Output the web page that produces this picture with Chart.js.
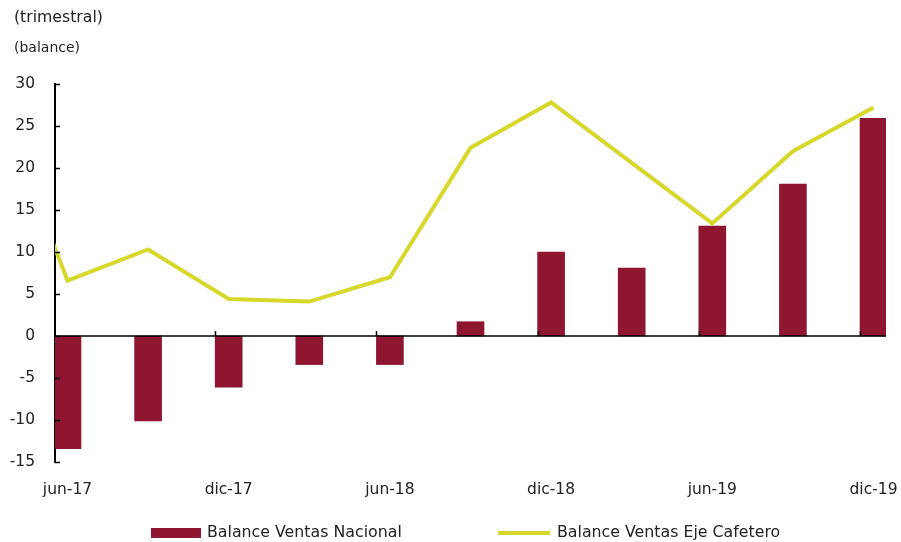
<!DOCTYPE html>
<html lang="es">
<head>
<meta charset="utf-8">
<script src="https://cdn.jsdelivr.net/npm/chart.js@4/dist/chart.umd.min.js"></script>
<style>
  html, body { margin: 0; padding: 0; background: #fff; }
  body { width: 901px; height: 542px; position: relative; overflow: hidden;
         font-family: 'DejaVu Sans', sans-serif; color: #222; }
  #wrap { position: absolute; left: 0; top: 0; width: 901px; height: 542px; }
  .note { position: absolute; left: 14px; white-space: nowrap; }
  #t1 { top: 7px; font-size: 15.7px; }
  #t2 { top: 39px; font-size: 14px; }
  .leg { position: absolute; top: 522px; font-size: 15.8px; white-space: nowrap; }
  .leg i { position: absolute; display: block; }
  #leg1 { left: 151px; } #leg1 i { left: 0; top: 6px; width: 50px; height: 10px; background: #8e1631; }
  #leg1 span { margin-left: 56px; }
  #leg2 { left: 498px; } #leg2 i { left: 0; top: 9px; width: 52px; height: 4px; background: #d6d82c; }
  #leg2 span { margin-left: 59px; }
</style>
</head>
<body>
<div id="wrap"><canvas id="chart" width="901" height="542"></canvas></div>
<div class="note" id="t1">(trimestral)</div>
<div class="note" id="t2">(balance)</div>
<div class="leg" id="leg1"><i></i><span>Balance Ventas Nacional</span></div>
<div class="leg" id="leg2"><i></i><span>Balance Ventas Eje Cafetero</span></div>
<script>
  // quarters on the x axis
  const categories = ['jun-17', 'sep-17', 'dic-17', 'mar-18', 'jun-18', 'sep-18',
                      'dic-18', 'mar-19', 'jun-19', 'sep-19', 'dic-19'];
  const nacional    = [-13.4, -10.1, -6.1, -3.4, -3.4, 1.7, 10.0, 8.1, 13.1, 18.1, 25.9];
  const ejeCafetero = [6.6, 10.3, 4.4, 4.1, 7.0, 22.4, 27.8, 20.6, 13.4, 22.0, 27.2];
  // mar-17 value: only its segment into jun-17 shows, cut at the axis
  const ejeCafeteroPrev = 31.4;
  const labelEvery = 2;
  const yTicks = { min: -15, max: 30, step: 5 };

  const red = '#8e1631';
  const yellow = '#d6d82c';
  const font = { family: "'DejaVu Sans', sans-serif", size: 15.5 };

  const barPts  = nacional.map((v, i) => ({ x: i, y: v }));
  const linePts = [{ x: -1, y: ejeCafeteroPrev }].concat(ejeCafetero.map((v, i) => ({ x: i, y: v })));

  // small inward tick marks on both axes
  const innerTicks = {
    id: 'innerTicks',
    afterDatasetsDraw(chart) {
      const { ctx, chartArea, scales } = chart;
      const x = scales.x, y = scales.y;
      ctx.save();
      ctx.strokeStyle = '#000';
      ctx.lineWidth = 1.5;
      ctx.beginPath();
      y.ticks.forEach(t => {
        const py = Math.round(y.getPixelForValue(t.value)) + 0.5;
        ctx.moveTo(chartArea.left, py);
        ctx.lineTo(chartArea.left + 5, py);
      });
      const y0 = y.getPixelForValue(0);
      for (let i = labelEvery; i < categories.length; i += labelEvery) {
        const px = Math.round(x.getPixelForValue(i) - 13.5) + 0.5;
        ctx.moveTo(px, y0);
        ctx.lineTo(px, y0 - 5);
      }
      ctx.stroke();
      // zero line on top of the bars
      ctx.lineWidth = 1.6;
      ctx.beginPath();
      ctx.moveTo(chartArea.left, y0);
      ctx.lineTo(chartArea.right, y0);
      ctx.stroke();
      ctx.restore();
    }
  };

  new Chart(document.getElementById('chart'), {
    data: {
      datasets: [
        {
          type: 'line',
          label: 'Balance Ventas Eje Cafetero',
          data: linePts,
          borderColor: yellow,
          backgroundColor: yellow,
          borderWidth: 4,
          pointRadius: 0,
          tension: 0,
          clip: 0,
          order: 0
        },
        {
          type: 'bar',
          label: 'Balance Ventas Nacional',
          data: barPts,
          backgroundColor: red,
          borderWidth: 0,
          barThickness: 27,
          order: 1
        }
      ]
    },
    options: {
      responsive: false,
      animation: false,
      layout: { padding: { top: 84, right: 15, bottom: 40, left: 0 } },
      plugins: { legend: { display: false }, tooltip: { enabled: false } },
      scales: {
        x: {
          type: 'linear',
          offset: false,
          min: -0.155,
          max: categories.length - 1 + 0.155,
          afterBuildTicks: s => {
            s.ticks = [];
            for (let i = 0; i < categories.length; i += labelEvery) s.ticks.push({ value: i });
          },
          afterFit: s => { s.height = 40; s.paddingLeft = 0; s.paddingRight = 0; },
          grid: { display: false, drawTicks: false, offset: false },
          border: { display: false },
          ticks: {
            color: '#222', font, padding: 19, maxRotation: 0, autoSkip: false,
            callback: v => categories[v]
          }
        },
        y: {
          min: yTicks.min,
          max: yTicks.max,
          afterFit: s => { s.width = 55; },
          grid: { display: false, drawTicks: false },
          border: { display: true, color: '#000', width: 2 },
          ticks: { stepSize: yTicks.step, color: '#222', font, padding: 20 }
        }
      }
    },
    plugins: [innerTicks]
  });
</script>
</body>
</html>
